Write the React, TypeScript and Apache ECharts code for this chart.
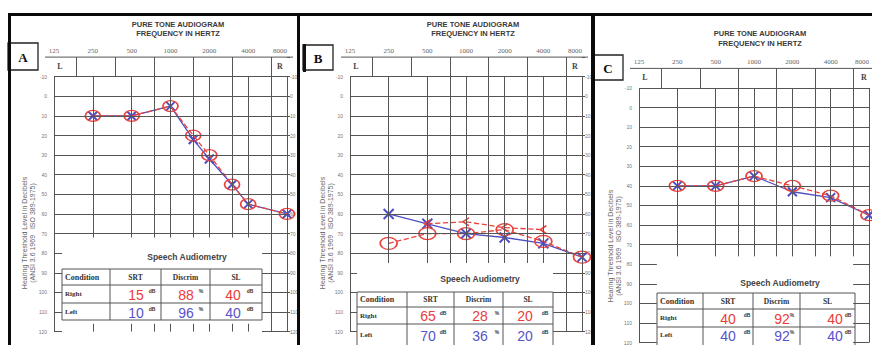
import React, { useEffect, useRef } from "react";
import * as echarts from "echarts";

// ---------------- data ----------------
const FREQ_LABELS = ["125", "250", "500", "1000", "2000", "4000", "8000"];
const GRID_FREQS = [125, 250, 500, 750, 1000, 1500, 2000, 3000, 4000, 6000, 8000];
const ROW_DIVIDER_FREQS = [187.5, 375, 750, 1500, 3000, 6000];
const DB_LEVELS = [-10, 0, 10, 20, 30, 40, 50, 60, 70, 80, 90, 100, 110, 120];

// Panel A
const A_FREQS = [250, 500, 1000, 1500, 2000, 3000, 4000, 8000];
const A_RIGHT = [10, 10, 5, 20, 30, 45, 55, 60];
const A_LEFT = [10, 10, 5, 22, 32, 45, 55, 60];
// Panel B
const B_FREQS = [250, 500, 1000, 2000, 4000, 8000];
const B_RIGHT = [75, 70, 70, 68, 74, 82];
const B_LEFT = [60, 65, 70, 72, 75, 82];
const B_BONE_FREQS = [500, 1000, 2000, 4000];
const B_BONE = [65, 64, 67, 68];
// Panel C
const C_FREQS = [250, 500, 1000, 2000, 4000, 8000];
const C_RIGHT = [40, 40, 35, 40, 45, 55];
const C_LEFT = [40, 40, 35, 43, 46, 55];

// Speech audiometry tables
const SPEECH_HEADERS = ["Condition", "SRT", "Discrim", "SL"];
const SPEECH_CONDITIONS = ["Right", "Left"];
const SPEECH_UNITS = ["dB", "%", "dB"];
const A_SRT = [15, 10];
const A_DISCRIM = [88, 96];
const A_SL = [40, 40];
const B_SRT = [65, 70];
const B_DISCRIM = [28, 36];
const B_SL = [20, 20];
const C_SRT = [40, 40];
const C_DISCRIM = [92, 92];
const C_SL = [40, 40];

// ---------------- styles / layout ----------------
const RED = "#e8443e";
const BLUE = "#4f4fc2";
const TXT_RED = "#ec3c38";
const TXT_BLUE = "#5652cc";
const GRIDC = "#555555";
const SANS = "Liberation Sans";
const SERIF = "Liberation Serif";

const O_PATH = "path://M0,10 A10,10 0 1,1 20,10 A10,10 0 1,1 0,10 Z";
const X_PATH = "path://M0,0 L10,10 M10,0 L0,10";
const BONE_PATH = "path://M8,0 L0,5 L8,10";

const oct = (f: number) => Math.log(f / 125) / Math.LN2;
const pts = (fs: number[], dbs: number[]) => fs.map((f, i) => [oct(f), dbs[i]]);

const LAYOUTS = [
  {
    id: "A", gridLeft: 54, gridTop: 57.1, gridW: 233, gridH: 274.5,
    fullDb: 70, vEnd: 72, stubFrom: 116,
    tableX: [62, 110, 161, 210, 262], tableY: [269, 285, 303, 320],
    speech: [187, 257], headY: 277, rowY: [294, 312],
    numX: [136, 186, 233], unitX: [152, 201, 250],
    title: [178, 24, 33], box: [8, 43, 30, 27], letter: [23, 57],
    yTitle: [28, 233], rightAxis: true, oSize: [15, 11], xSize: 9,
  },
  {
    id: "B", gridLeft: 350, gridTop: 57.1, gridW: 232, gridH: 274.5,
    fullDb: 80, vEnd: 85, stubFrom: 0,
    tableX: [357, 407, 454, 503, 553], tableY: [292, 307, 324, 352],
    speech: [480, 279], headY: 299.5, rowY: [315.5, 335],
    numX: [428, 480, 525], unitX: [443, 497, 545],
    title: [473, 24, 33], box: [303, 45, 30, 25], letter: [318, 58],
    yTitle: [326, 233], rightAxis: true, oSize: [17, 12], xSize: 10,
  },
  {
    id: "C", gridLeft: 639, gridTop: 68.4, gridW: 232, gridH: 274.5,
    fullDb: 70, vEnd: 76, stubFrom: 0,
    tableX: [657, 703, 753, 800, 855], tableY: [293, 309, 327, 352],
    speech: [780, 283], headY: 301, rowY: [318, 335],
    numX: [728, 782, 835], unitX: [747, 792, 848],
    title: [760, 33, 43], box: [593, 55, 30, 25], letter: [608, 68],
    yTitle: [614, 246], rightAxis: false, oSize: [16, 11], xSize: 9,
  },
];

const PANELS = [
  { L: LAYOUTS[0], right: pts(A_FREQS, A_RIGHT), left: pts(A_FREQS, A_LEFT), bone: null as any, srt: A_SRT, disc: A_DISCRIM, sl: A_SL },
  { L: LAYOUTS[1], right: pts(B_FREQS, B_RIGHT), left: pts(B_FREQS, B_LEFT), bone: pts(B_BONE_FREQS, B_BONE), srt: B_SRT, disc: B_DISCRIM, sl: B_SL },
  { L: LAYOUTS[2], right: pts(C_FREQS, C_RIGHT), left: pts(C_FREQS, C_LEFT), bone: null as any, srt: C_SRT, disc: C_DISCRIM, sl: C_SL },
];

function gridSegments(L: any) {
  const segs: any[] = [];
  const ow = L.gridW / 6;
  const oL = (L.tableX[0] - L.gridLeft) / ow;
  const oR = (L.tableX[4] - L.gridLeft) / ow;
  const seg = (x1: number, y1: number, x2: number, y2: number) =>
    segs.push([{ coord: [x1, y1] }, { coord: [x2, y2] }]);
  DB_LEVELS.forEach((db) => {
    if (db <= L.fullDb) seg(0, db, 6, db);
    else {
      seg(0, db, oL, db);
      seg(oR, db, 6, db);
    }
  });
  GRID_FREQS.forEach((f) => {
    const x = oct(f);
    if (x < oL || x > oR) seg(x, -10, x, 120);
    else {
      seg(x, -10, x, L.vEnd);
      if (L.stubFrom) seg(x, L.stubFrom, x, 120);
    }
  });
  ROW_DIVIDER_FREQS.forEach((f) => seg(oct(f), -20, oct(f), -10));
  return segs;
}

function txt(x: number, y: number, text: string, size: number, fill: string, opts: any = {}) {
  return {
    type: "text", x, y, silent: true, rotation: opts.rotation || 0, z: 20,
    style: {
      text, fill, fontSize: size, fontFamily: opts.family || SANS,
      fontWeight: opts.weight || "normal", align: opts.align || "center",
      verticalAlign: "middle", lineHeight: opts.lineHeight || size * 1.2,
    },
  };
}
function ln(x1: number, y1: number, x2: number, y2: number, color = GRIDC, w = 1) {
  return { type: "line", silent: true, z: 20, shape: { x1, y1, x2, y2 }, style: { stroke: color, lineWidth: w } };
}

function panelGraphics(P: any) {
  const L = P.L;
  const g: any[] = [];
  g.push(txt(L.title[0], L.title[1], "PURE TONE AUDIOGRAM", 7.5, "#3a3a3a", { weight: "bold" }));
  g.push(txt(L.title[0], L.title[2], "FREQUENCY IN HERTZ", 7.5, "#3a3a3a", { weight: "bold" }));
  const [bx, by, bw, bh] = L.box;
  g.push({ type: "rect", silent: true, z: 20, shape: { x: bx, y: by, width: bw, height: bh }, style: { fill: "#fff", stroke: "#222", lineWidth: 1.3 } });
  if (L.id === "B") g.push(ln(bx + 1.5, by - 1, bx + 1.5, by + bh + 2, "#111", 3));
  g.push(txt(L.letter[0], L.letter[1], L.id, 13, "#111", { family: SERIF, weight: "bold" }));
  const gr = L.gridLeft + L.gridW;
  g.push(ln(L.gridLeft - 9, L.gridTop, gr + 6, L.gridTop));
  g.push(txt(L.gridLeft + 6, L.gridTop + 9.5, "L", 8, "#444", { family: SERIF, weight: "bold" }));
  g.push(txt(gr - 7, L.gridTop + 9.5, "R", 8, "#444", { family: SERIF, weight: "bold" }));
  g.push(txt(L.yTitle[0], L.yTitle[1], "Hearing Threshold Level in Decibels\n(ANSI 3.6 1969   ISO 389-1975)", 7, "#666", { rotation: Math.PI / 2, lineHeight: 8 }));
  g.push(txt(L.speech[0], L.speech[1], "Speech Audiometry", 8.5, "#444", { weight: "bold" }));
  // table
  const tx = L.tableX, ty = L.tableY;
  ty.forEach((y: number) => g.push(ln(tx[0], y, tx[4], y)));
  tx.forEach((x: number) => g.push(ln(x, ty[0], x, ty[3])));
  SPEECH_HEADERS.forEach((h, i) => {
    if (i === 0) g.push(txt(tx[0] + 3, L.headY, h, 8, "#333", { family: SERIF, weight: "bold", align: "left" }));
    else g.push(txt((tx[i] + tx[i + 1]) / 2, L.headY, h, 7.5, "#333", { family: SERIF, weight: "bold" }));
  });
  SPEECH_CONDITIONS.forEach((c, r) => {
    const y = L.rowY[r];
    const col = r === 0 ? TXT_RED : TXT_BLUE;
    g.push(txt(tx[0] + 3, y, c, 7, "#333", { family: SERIF, weight: "bold", align: "left" }));
    [P.srt[r], P.disc[r], P.sl[r]].forEach((v: number, j: number) => {
      g.push(txt(L.numX[j], y + 0.5, String(v), 14, col));
      g.push(txt(L.unitX[j], y - 3, SPEECH_UNITS[j], 5, "#333", { weight: "bold" }));
    });
  });
  return g;
}

function buildOption() {
  const grid: any[] = [], xAxis: any[] = [], yAxis: any[] = [], series: any[] = [], graphic: any[] = [];
  PANELS.forEach((P, i) => {
    const L = P.L;
    grid.push({ left: L.gridLeft, top: L.gridTop, width: L.gridW, height: L.gridH });
    xAxis.push({
      type: "value", gridIndex: i, min: 0, max: 6, interval: 1, position: "top",
      axisLine: { show: false }, axisTick: { show: false }, splitLine: { show: false },
      axisLabel: {
        formatter: (v: number) => FREQ_LABELS[Math.round(v)] || "",
        fontSize: 7, fontFamily: SERIF, color: "#666", margin: 3, alignMaxLabel: "right",
      },
    });
    const yBase = {
      type: "value", gridIndex: i, inverse: true, min: -20, max: 120, interval: 10,
      axisLine: { show: false }, splitLine: { show: false },
    };
    const yi = yAxis.length;
    yAxis.push({
      ...yBase, position: "left", axisTick: { show: false },
      axisLabel: { fontSize: 5, color: "#777", margin: 7, formatter: (v: number) => (v < -10 ? "" : String(v)) },
    });
    if (L.rightAxis) {
      yAxis.push({
        ...yBase, position: "right",
        axisTick: { show: true, length: 3, lineStyle: { color: GRIDC } },
        axisLabel: { fontSize: 5, color: "#777", margin: 3, formatter: (v: number) => (v < -10 ? "" : String(v)) },
      });
    }
    series.push({
      type: "line", xAxisIndex: i, yAxisIndex: yi, data: [], silent: true,
      markLine: {
        silent: true, symbol: ["none", "none"], label: { show: false },
        lineStyle: { color: GRIDC, width: 1, type: "solid" }, emphasis: { disabled: true },
        data: gridSegments(L),
      },
    });
    series.push({
      type: "line", xAxisIndex: i, yAxisIndex: yi, data: P.left, silent: true,
      symbol: X_PATH, symbolSize: P.L.xSize,
      itemStyle: { color: "rgba(0,0,0,0)", borderColor: BLUE, borderWidth: 2 },
      lineStyle: { color: BLUE, width: 1.3, type: "solid" }, z: 3,
    });
    series.push({
      type: "line", xAxisIndex: i, yAxisIndex: yi, data: P.right, silent: true,
      symbol: O_PATH, symbolSize: P.L.oSize,
      itemStyle: { color: "rgba(0,0,0,0)", borderColor: RED, borderWidth: 1.5 },
      lineStyle: { color: RED, width: 1.3, type: "dashed" }, z: 4,
    });
    if (P.bone) {
      series.push({
        type: "line", xAxisIndex: i, yAxisIndex: yi, data: P.bone, silent: true,
        symbol: BONE_PATH, symbolSize: [6, 8],
        itemStyle: { color: "rgba(0,0,0,0)", borderColor: RED, borderWidth: 1.5 },
        lineStyle: { color: RED, width: 1.3, type: "dashed" }, z: 4,
      });
    }
    graphic.push(...panelGraphics(P));
  });
  // thick frame borders
  const frame = (x: number, y: number, w: number, h: number) =>
    ({ type: "rect", silent: true, z: 30, shape: { x, y, width: w, height: h }, style: { fill: "#0a0a0a" } });
  graphic.push(frame(8, 13, 864, 3));
  graphic.push(frame(8, 13, 3, 332));
  graphic.push(frame(297, 13, 3, 332));
  graphic.push(frame(591, 13, 4, 332));

  return {
    animation: false,
    backgroundColor: "#ffffff",
    grid, xAxis, yAxis, series, graphic,
  };
}

export default function App() {
  const ref = useRef<HTMLDivElement>(null);
  useEffect(() => {
    const chart = echarts.init(ref.current!, null, { renderer: "svg" });
    chart.setOption(buildOption() as any);
    return () => chart.dispose();
  }, []);
  return (
    <div
      ref={ref}
      style={{ position: "fixed", left: 0, top: 0, width: 872, height: 345, background: "#fff" }}
    />
  );
}
